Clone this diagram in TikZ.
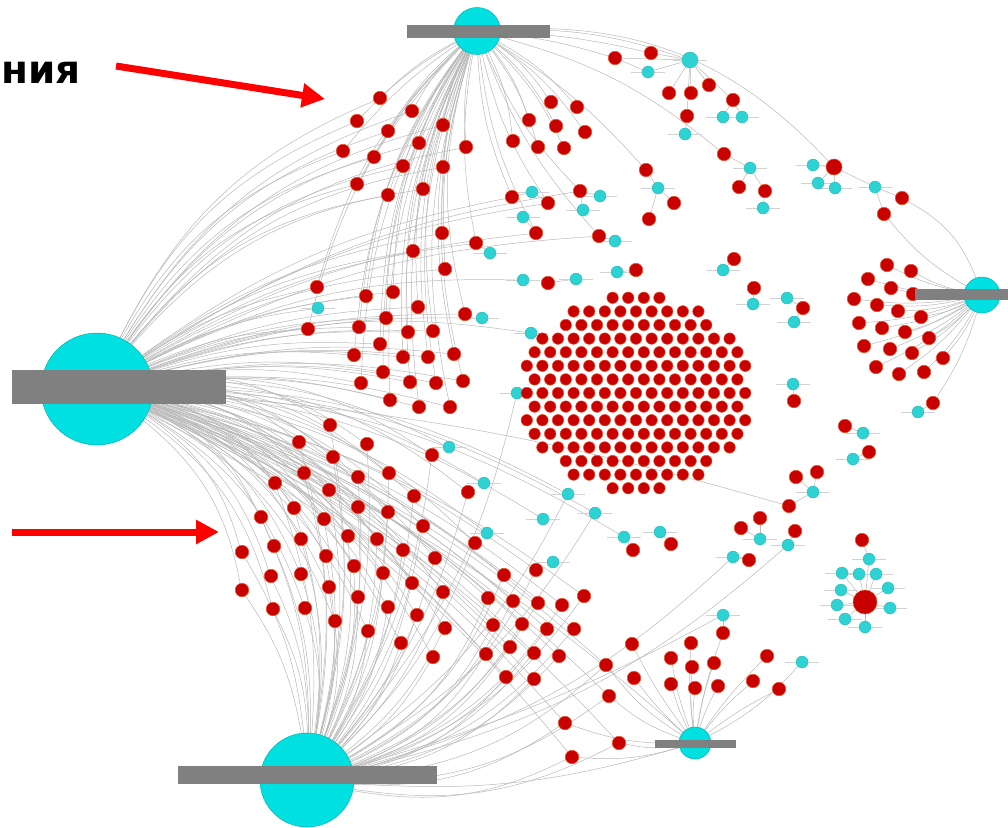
\documentclass[tikz,border=0pt]{standalone}
\usepackage{fontspec}
\newfontfamily\labelfont{DejaVu Sans}
\usetikzlibrary{arrows.meta}
\pgfdeclarelayer{background}
\pgfsetlayers{background,main}

\definecolor{dotred}{RGB}{200,0,0}
\definecolor{dotrim}{RGB}{232,80,40}
\definecolor{dotcyan}{RGB}{45,210,210}
\definecolor{hubcyan}{RGB}{0,224,224}
\definecolor{bargray}{RGB}{128,128,128}
\definecolor{edgegray}{RGB}{184,184,184}
\definecolor{arrowred}{RGB}{255,0,0}

\begin{document}
\begin{tikzpicture}[x=1pt,y=-1pt,
  rdot/.style={circle, inner sep=0pt, minimum size=13.5pt, fill=dotred, draw=dotrim, line width=0.5pt},
  kdot/.style={rdot, minimum size=11.5pt},
  cdot/.style={circle, inner sep=0pt, minimum size=12pt, fill=dotcyan, draw=dotcyan!85!black, line width=0.3pt},
  hub/.style={circle, inner sep=0pt, fill=hubcyan, draw=hubcyan!80!black, line width=0.5pt},
  bar/.style={rectangle, inner sep=0pt, fill=bargray},
  edge/.style={draw=edgegray, line width=0.5pt},
  tagline/.style={draw=gray!35, line width=0.8pt},
  pointer/.style={draw=arrowred, line width=7pt, -{Triangle[length=23pt,width=23pt]}},
  caption/.style={inner sep=0pt, font=\labelfont\bfseries\fontsize{39}{42}\selectfont}
]
\useasboundingbox (0,0) rectangle (1008,827);
\clip (0,0) rectangle (1008,827);

% ---------- hubs ----------
\node[hub, minimum size=47pt]  (hubT) at (477,31) {};
\node[hub, minimum size=112pt] (hubL) at (97,389) {};
\node[hub, minimum size=94pt]  (hubB) at (307,780) {};
\node[hub, minimum size=32pt]  (hubS) at (695,743) {};
\node[hub, minimum size=36pt]  (hubR) at (982,295) {};
\node[rdot, minimum size=24pt] (hubK) at (865,602) {};

% ---------- dot groups ----------
% upper-left fan
\foreach [count=\i] \x/\y in {380/98, 412/111, 357/121, 388/131, 443/125, 343/151, 419/143,
  374/157, 403/166, 443/167, 466/147, 357/184, 388/195, 423/189}
  \node[rdot] (tl\i) at (\x,\y) {};
% upper fan right of the top hub
\foreach [count=\i] \x/\y in {551/102, 577/107, 529/120, 556/126, 585/132, 513/141, 538/147, 564/148}
  \node[rdot] (tr\i) at (\x,\y) {};
% upper middle
\foreach [count=\i] \x/\y in {512/197, 548/203, 536/233, 580/191, 599/236, 442/233, 476/243, 413/251, 445/269}
  \node[rdot] (mu\i) at (\x,\y) {};
\foreach [count=\i] \x/\y in {532/192, 523/217, 600/196, 583/210, 615/241, 490/253}
  \node[cdot] (muc\i) at (\x,\y) {};
% left middle block
\foreach [count=\i] \x/\y in {317/287, 366/296, 393/292, 308/329, 359/327, 386/318, 418/307, 465/314,
  408/332, 433/331, 380/344, 354/355, 403/357, 428/357, 454/354, 383/372, 410/382, 436/383,
  463/381, 361/383, 390/400, 419/407, 450/407}
  \node[rdot] (lm\i) at (\x,\y) {};
\foreach [count=\i] \x/\y in {318/308, 482/318}
  \node[cdot] (lmc\i) at (\x,\y) {};
% lower left block
\foreach [count=\i] \x/\y in {330/425, 299/442, 367/444, 333/457, 432/455, 275/483, 304/473, 358/477,
  389/473, 329/490, 468/492, 414/496, 261/517, 294/508, 324/519, 358/507, 388/512, 423/526,
  475/543, 242/552, 274/546, 301/539, 348/536, 377/539, 326/556, 403/550, 435/558, 271/576,
  301/574, 354/566, 383/573, 412/583, 242/590, 329/587, 358/597, 443/592, 273/609, 305/608,
  388/607, 417/615, 335/621, 368/631, 445/628, 401/643, 433/657}
  \node[rdot] (ll\i) at (\x,\y) {};
\foreach [count=\i] \x/\y in {449/447, 484/483, 487/533}
  \node[cdot] (llc\i) at (\x,\y) {};
% lower middle
\foreach [count=\i] \x/\y in {536/570, 504/575, 488/598, 513/601, 538/603, 562/605, 584/596, 493/625,
  522/624, 547/629, 574/629, 486/654, 510/647, 534/653, 559/656, 506/677, 534/679, 606/665,
  609/696, 565/723, 619/743, 572/757}
  \node[rdot] (lb\i) at (\x,\y) {};
\node[cdot] (lbc1) at (553,562) {};
% around the small bottom hub
\foreach [count=\i] \x/\y in {632/644, 634/678, 671/658, 691/643, 692/667, 714/663, 671/684,
  695/688, 718/686, 723/633, 767/656, 753/681, 779/689}
  \node[rdot] (sh\i) at (\x,\y) {};
\foreach [count=\i] \x/\y in {723/615, 802/662}
  \node[cdot] (shc\i) at (\x,\y) {};
% right fan
\foreach [count=\i] \x/\y in {887/265, 911/271, 868/279, 891/288, 913/294, 854/299, 877/305,
  898/311, 921/317, 859/323, 882/328, 905/332, 929/338, 864/346, 890/349, 912/353, 943/358,
  876/367, 899/374, 924/372, 933/403}
  \node[rdot] (rc\i) at (\x,\y) {};
\node[cdot] (rcc1) at (918,412) {};

% small networks, top right
\node[cdot, minimum size=16pt] (na0) at (690,60) {};
\foreach [count=\i] \x/\y in {615/58, 651/53, 669/93, 691/93, 709/85, 733/100, 687/116}
  \node[rdot] (na\i) at (\x,\y) {};
\foreach [count=\i] \x/\y in {648/72, 685/134, 723/117, 742/117}
  \node[cdot] (nac\i) at (\x,\y) {};
\node[cdot] (nb0) at (750,168) {};
\foreach [count=\i] \x/\y in {724/154, 739/187, 765/191}
  \node[rdot] (nb\i) at (\x,\y) {};
\node[cdot] (nbc1) at (763,208) {};
\node[cdot] (nc0) at (658,188) {};
\foreach [count=\i] \x/\y in {646/170, 674/203, 649/219}
  \node[rdot] (nc\i) at (\x,\y) {};
\node[rdot, minimum size=16pt] (nd0) at (834,167) {};
\foreach [count=\i] \x/\y in {813/165, 818/183, 835/188, 875/187}
  \node[cdot] (ndc\i) at (\x,\y) {};
\foreach [count=\i] \x/\y in {902/198, 884/214}
  \node[rdot] (nd\i) at (\x,\y) {};

% scattered pairs in the middle
\foreach [count=\i] \x/\y in {636/270, 734/259, 754/288, 794/401, 845/426, 869/452, 796/477,
  817/472, 789/506, 741/528, 749/560, 671/544, 633/550, 548/283, 803/308, 760/518, 795/531}
  \node[rdot] (ms\i) at (\x,\y) {};
\foreach [count=\i] \x/\y in {617/272, 723/270, 753/304, 787/298, 794/322, 531/333, 517/393,
  793/384, 863/433, 853/459, 813/492, 760/539, 788/545, 733/557, 568/494, 595/513, 543/519,
  624/537, 660/532, 523/280, 576/279}
  \node[cdot] (msc\i) at (\x,\y) {};

% ring round the red hub
\node[rdot] (rk1) at (862,540) {};
\foreach [count=\i] \x/\y in {869/559, 842/573, 859/574, 876/574, 841/590, 888/588, 837/605,
  890/608, 845/619, 865/627}
  \node[cdot] (rkc\i) at (\x,\y) {};

% packed central disc
\foreach \r in {-7,...,7}{
  \foreach \c in {-8,...,8}{
    \pgfmathsetmacro\px{636+\c*15.6+mod(abs(\r),2)*7.8}
    \pgfmathsetmacro\py{393+\r*13.6}
    \pgfmathtruncatemacro\ins{(((\px-636)/114)^2+((\py-393)/98)^2<=1)?1:0}
    \ifnum\ins=1 \node[kdot] (k\r c\c) at (\px,\py) {};\fi
  }
}

% ---------- label bars ----------
\node[bar, minimum width=143pt, minimum height=13pt] (barT) at (478,31) {};
\node[bar, minimum width=214pt, minimum height=34pt] (barL) at (119,387) {};
\node[bar, minimum width=259pt, minimum height=18pt] (barB) at (307,775) {};
\node[bar, minimum width=81pt,  minimum height=8pt]  (barS) at (695,743.5) {};
\node[bar, minimum width=93pt,  minimum height=11pt] (barR) at (961.5,294) {};

% ---------- caption and pointers ----------
\node[caption, anchor=base west] (t1) at (1,83) {ния};
\coordinate (p1s) at (116,66);
\coordinate (p1e) at (325,99);
\coordinate (p2s) at (12,532);
\coordinate (p2e) at (219,532);
\draw[pointer] (p1s) -- (p1e);
\draw[pointer] (p2s) -- (p2e);

% ---------- connectors ----------
\begin{pgfonlayer}{background}
  \foreach \i in {1,...,14} {
    \draw[edge] (hubT) to[bend right=8] (tl\i);
    \draw[edge] (hubL) to[bend left=20] (tl\i);
  }
  \foreach \i in {1,...,8} \draw[edge] (hubT) to[bend left=10] (tr\i);
  \foreach \i in {1,...,9} {
    \draw[edge] (hubT) to[bend right=10] (mu\i);
    \draw[edge] (hubL) to[bend left=12] (mu\i);
  }
  \foreach \i in {1,...,23} {
    \draw[edge] (hubL) to[bend left=10] (lm\i);
    \draw[edge] (hubT) to[bend right=15] (lm\i);
  }
  \foreach \i in {1,2} \draw[edge] (hubL) to[bend left=10] (lmc\i);
  \foreach \i in {1,...,45} {
    \draw[edge] (hubL) to[bend left=20] (ll\i);
    \draw[edge] (hubB) to[bend right=12] (ll\i);
  }
  \foreach \i in {1,2,3} \draw[edge] (hubL) to[bend left=15] (llc\i);
  \foreach \i in {1,...,22} {
    \draw[edge] (hubB) to[bend right=18] (lb\i);
    \draw[edge] (hubL) to[bend left=12] (lb\i);
  }
  \foreach \i in {1,...,13} \draw[edge] (hubS) to[bend left=5] (sh\i);
  \foreach \i in {18,19,20,21,22} \draw[edge] (hubS) to[bend left=10] (lb\i);
  \draw[edge] (hubS) to[bend right=10] (shc2);
  \draw[edge] (sh10) -- (shc1);
  \foreach \i in {1,...,21} \draw[edge] (hubR) to[bend left=8] (rc\i);
  \draw[edge] (rc21) -- (rcc1);
  % top right networks
  \foreach \i in {1,...,7} \draw[edge] (na0) -- (na\i);
  \draw[edge] (na0) -- (nac1);
  \draw[edge] (na1) -- (nac1);
  \draw[edge] (na7) -- (nac2);
  \draw[edge] (na6) -- (nac3);
  \draw[edge] (na6) -- (nac4);
  \foreach \i in {1,2,3} \draw[edge] (nb0) -- (nb\i);
  \draw[edge] (nb3) -- (nbc1);
  \foreach \i in {1,2,3} \draw[edge] (nc0) -- (nc\i);
  \foreach \i in {1,2,3,4} \draw[edge] (nd0) -- (ndc\i);
  \draw[edge] (ndc4) -- (nd1);
  \draw[edge] (ndc4) -- (nd2);
  \draw[edge] (nd1) to[bend left=20] (hubR);
  \draw[edge] (nd2) to[bend right=10] (hubR);
  \draw[edge] (hubT) to[bend left=25] (nd0);
  \draw[edge] (hubT) to[bend left=12] (nb1);
  \draw[edge] (hubT) to[bend left=8] (nc1);
  \draw[edge] (hubT) to[bend left=5] (na1);
  \draw[edge] (hubT) to[bend left=5] (na2);
  \draw[edge] (hubT) to[bend left=10] (na0);
  % middle pairs
  \draw[edge] (ms1) -- (msc1);
  \draw[edge] (ms2) -- (msc2);
  \draw[edge] (ms3) -- (msc3);
  \draw[edge] (ms15) -- (msc4);
  \draw[edge] (ms15) -- (msc5);
  \draw[edge] (ms4) -- (msc8);
  \draw[edge] (ms5) -- (msc9);
  \draw[edge] (ms6) -- (msc10);
  \draw[edge] (ms7) -- (msc11);
  \draw[edge] (ms8) -- (msc11);
  \draw[edge] (ms9) -- (msc11);
  \draw[edge] (ms10) -- (msc12);
  \draw[edge] (ms16) -- (msc12);
  \draw[edge] (ms17) -- (msc13);
  \draw[edge] (ms11) -- (msc14);
  \draw[edge] (ms12) -- (msc19);
  \draw[edge] (ms13) -- (msc18);
  \draw[edge] (ms14) -- (msc21);
  \draw[edge] (mu1) -- (muc1);
  \draw[edge] (mu2) -- (muc1);
  \draw[edge] (mu3) -- (muc2);
  \draw[edge] (mu4) -- (muc3);
  \draw[edge] (mu4) -- (muc4);
  \draw[edge] (mu5) -- (muc5);
  \draw[edge] (mu7) -- (muc6);
  \foreach \i in {6,15,16,17,18,20} \draw[edge] (hubL) to[bend left=14] (msc\i);
  \foreach \i in {7,13,14,15,16} \draw[edge] (hubB) to[bend right=14] (msc\i);
  \draw[edge] (hubL) to[bend left=10] (hubS);
  \draw[edge] (hubB) to[bend right=10] (hubS);
  \draw[edge] (hubB) to[bend right=6] (shc1);
  \draw[edge] (hubL) to[bend left=6] (ms9);
  % ring
  \draw[edge] (rkc1) -- (rk1);
  \foreach \i in {1,...,10} \draw[edge] (hubK) -- (rkc\i);
  % small tag marks beside the cyan dots
  \foreach \n in {muc1,muc2,muc3,muc4,muc5,muc6,lmc1,lmc2,llc1,llc2,llc3,lbc1,shc1,shc2,rcc1,
    na0,nac1,nac2,nac3,nac4,nb0,nbc1,nc0,ndc1,ndc2,ndc3,ndc4,
    msc1,msc2,msc3,msc4,msc5,msc6,msc7,msc8,msc9,msc10,msc11,msc12,msc13,msc14,msc15,msc16,
    msc17,msc18,msc19,msc20,msc21,rkc1,rkc2,rkc3,rkc4,rkc5,rkc6,rkc7,rkc8,rkc9,rkc10}
    \draw[tagline] ([xshift=-17pt]\n.center) -- ([xshift=17pt]\n.center);
\end{pgfonlayer}
\end{tikzpicture}
\end{document}
